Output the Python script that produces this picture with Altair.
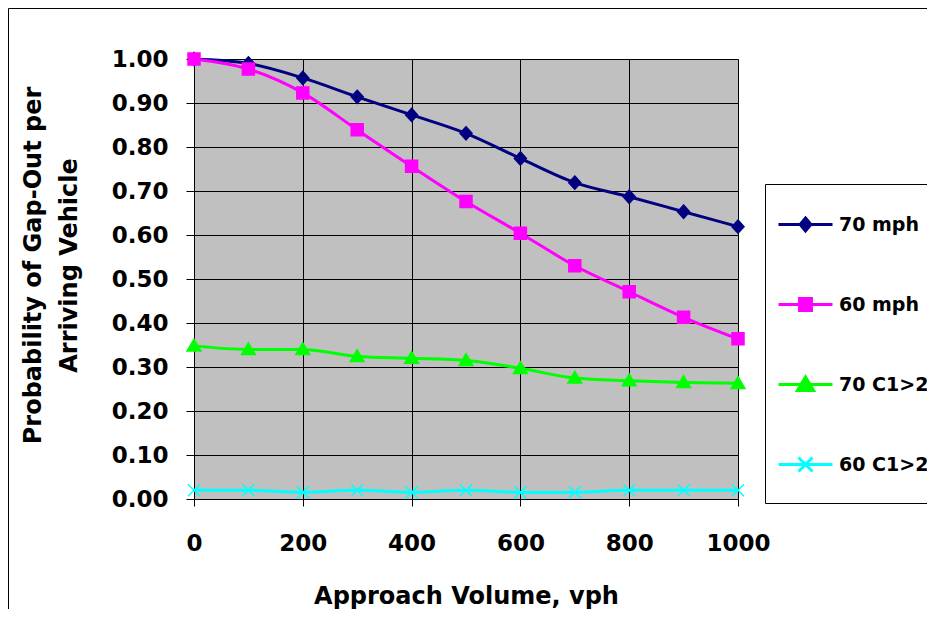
import altair as alt
import pandas as pd

# ---- data ----
volume = [0, 100, 200, 300, 400, 500, 600, 700, 800, 900, 1000]
series_names = ["70 mph", "60 mph", "70 C1>2", "60 C1>2"]
p_70mph = [1.00, 0.990, 0.957, 0.914, 0.873, 0.831, 0.774, 0.719, 0.687, 0.653, 0.619]
p_60mph = [1.00, 0.977, 0.923, 0.839, 0.756, 0.676, 0.604, 0.530, 0.471, 0.413, 0.364]
p_70c = [0.348, 0.340, 0.340, 0.324, 0.320, 0.315, 0.297, 0.275, 0.269, 0.265, 0.263]
p_60c = [0.020, 0.020, 0.015, 0.020, 0.015, 0.020, 0.015, 0.015, 0.020, 0.020, 0.020]
colors = ["#000080", "#FF00FF", "#00FF00", "#00FFFF"]
x_ticks = [0, 200, 400, 600, 800, 1000]
y_ticks = [0.0, 0.1, 0.2, 0.3, 0.4, 0.5, 0.6, 0.7, 0.8, 0.9, 1.0]

# marker shapes (plot) and line+marker shapes (legend)
marker_paths = [
    "M0,-1.1L1,0L0,1.1L-1,0Z",
    "M-1,-1H1V1H-1Z",
    "M0,-1.1L1.15,0.85H-1.15Z",
    "M-1,-1L1,1M-1,1L1,-1",
]
legend_paths = [
    "M-1,0H1M0,-0.24L0.2,0L0,0.24L-0.2,0Z",
    "M-1,0H1M-0.22,-0.22H0.22V0.22H-0.22Z",
    "M-1,0H1M0,-0.28L0.3,0.22H-0.3Z",
    "M-1,0H1M-0.26,-0.26L0.26,0.26M-0.26,0.26L0.26,-0.26",
]

rows = []
for name, vals in zip(series_names, [p_70mph, p_60mph, p_70c, p_60c]):
    for v, p in zip(volume, vals):
        rows.append({"series": name, "volume": v, "prob": p})
df = pd.DataFrame(rows)

FONT = "DejaVu Sans"

x_enc = alt.X(
    "volume:Q",
    scale=alt.Scale(domain=[0, 1000], nice=False, zero=False),
    axis=alt.Axis(
        values=x_ticks,
        format="d",
        labelFlush=False,
        title="Approach Volume, vph",
        labelFont=FONT, labelFontSize=23, labelFontWeight="bold", labelColor="#000000",
        labelPadding=26, tickSize=7,
        titleFont=FONT, titleFontSize=24, titleFontWeight="bold", titleColor="#000000",
        titleBaseline="alphabetic", titleY=104, titleAnchor="middle",
    ),
)
y_enc = alt.Y(
    "prob:Q",
    scale=alt.Scale(domain=[0, 1], nice=False),
    axis=alt.Axis(
        values=y_ticks,
        format=".2f",
        labelFlush=False,
        title=["Probability of Gap-Out per", "Arriving Vehicle"],
        labelFont=FONT, labelFontSize=23, labelFontWeight="bold", labelColor="#000000",
        labelPadding=18, tickSize=8,
        titleFont=FONT, titleFontSize=24, titleFontWeight="bold", titleColor="#000000",
        titleAngle=270, titleAlign="center", titleBaseline="alphabetic",
        titleX=-153.5, titleY=206, titleLineHeight=35.5,
    ),
)

color_scale = alt.Scale(domain=series_names, range=colors)

frame_data = pd.DataFrame({"k": [0]})
frame_left = alt.Chart(frame_data).mark_rule(stroke="#000000", strokeWidth=1).encode(
    x=alt.value(-185.5), y=alt.value(-50.5), y2=alt.value(700),
)
frame_top = alt.Chart(frame_data).mark_rule(stroke="#000000", strokeWidth=1).encode(
    x=alt.value(-185.5), x2=alt.value(1200), y=alt.value(-50.5),
)

lines = alt.Chart(df).mark_line(strokeWidth=3, interpolate="monotone").encode(
    x=x_enc, y=y_enc,
    color=alt.Color("series:N", scale=color_scale, legend=None),
)

points = alt.Chart(df).mark_point(filled=True, size=144, strokeWidth=1.5, opacity=1).encode(
    x=x_enc, y=y_enc,
    color=alt.Color("series:N", scale=color_scale, legend=None),
    stroke=alt.Stroke("series:N", scale=color_scale, legend=None),
    shape=alt.Shape("series:N", scale=alt.Scale(domain=series_names, range=marker_paths), legend=None),
)

leg = alt.Legend(
    title=" ", titleOrient="bottom", titleFontSize=2, titlePadding=11,
    orient="none", legendX=571, legendY=125,
    strokeColor="#000000", fillColor="#FFFFFF", padding=12,
    labelFont=FONT, labelFontSize=19, labelFontWeight="bold", labelColor="#000000",
    labelOffset=5, rowPadding=39, symbolStrokeWidth=3, symbolSize=2916,
    labelLimit=300,
)

legend_layer = alt.Chart(df).transform_filter("false").mark_point(
    filled=True, size=2916, strokeWidth=3, opacity=1
).encode(
    x=x_enc, y=y_enc,
    color=alt.Color("series:N", scale=color_scale, legend=leg),
    stroke=alt.Stroke("series:N", scale=color_scale, legend=leg),
    shape=alt.Shape("series:N", scale=alt.Scale(domain=series_names, range=legend_paths), legend=leg),
)

chart = alt.layer(frame_left, frame_top, lines, points, legend_layer).resolve_scale(
    color="independent", stroke="independent", shape="independent"
).properties(
    width=544, height=440,
    autosize=alt.AutoSizeParams(type="none"),
    padding={"left": 186, "top": 51, "right": 189, "bottom": 110},
    background="transparent",
).configure_view(
    fill="#C0C0C0", stroke="#808080", strokeWidth=1
).configure_axis(
    grid=True, gridColor="#000000", gridWidth=1, gridOpacity=1,
    domainColor="#000000", domainWidth=1,
    tickColor="#000000", tickWidth=1,
)

chart.save("out.html", embed_options={"renderer": "svg", "actions": False})
